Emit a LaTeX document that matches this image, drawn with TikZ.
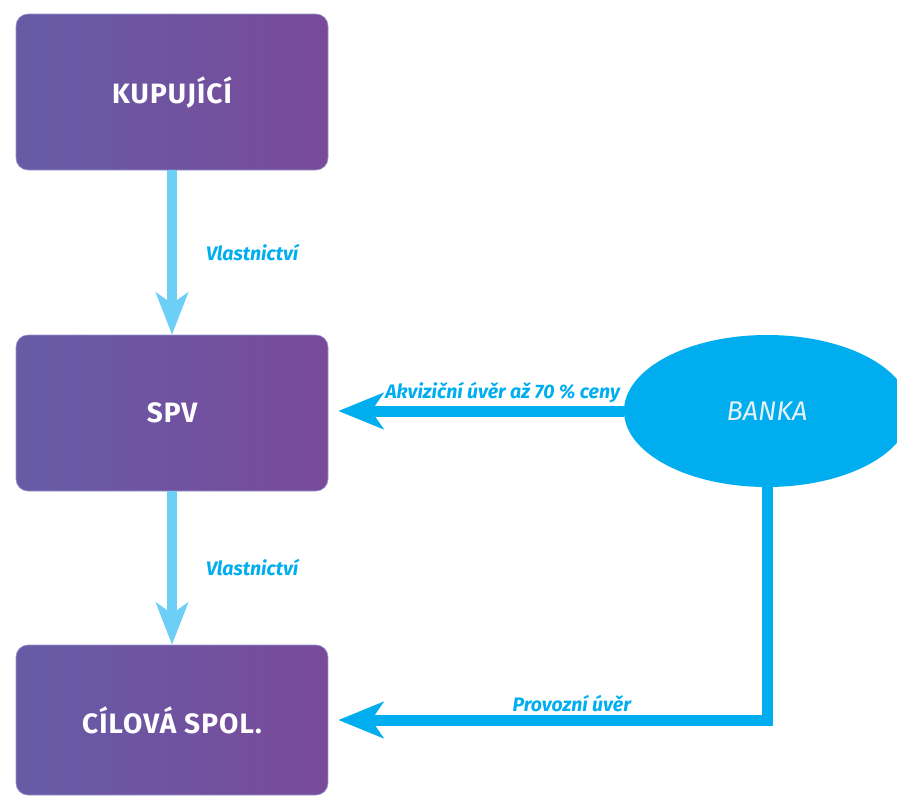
\documentclass[tikz,border=0pt]{standalone}
\usepackage{fontspec}
\setmainfont{Fira Sans}
\newfontfamily\titlefont[LetterSpace=4]{Fira Sans}
\usetikzlibrary{arrows.meta,shapes.geometric}
\definecolor{boxL}{RGB}{102,92,166}
\definecolor{boxR}{RGB}{121,74,154}
\definecolor{boxedge}{RGB}{150,150,205}
\definecolor{lightarr}{RGB}{109,207,246}
\definecolor{cyanarr}{RGB}{0,174,239}
\definecolor{bankatext}{RGB}{232,241,248}
\begin{document}
\begin{tikzpicture}[x=1pt,y=-1pt,
  entity/.style={rectangle, rounded corners=12pt, minimum width=312pt, inner sep=0pt,
    left color=boxL, right color=boxR, draw=boxedge, line width=0.6pt,
    text=white, font=\titlefont\fontsize{28}{32}\selectfont\bfseries},
  bank/.style={ellipse, minimum width=286pt, minimum height=152pt, inner sep=0pt,
    fill=cyanarr, text=bankatext, font=\fontsize{27}{30}\selectfont\itshape},
  ownarrow/.style={draw=lightarr, line width=10pt,
    -{Stealth[length=42pt, width=32pt, inset=11pt]}},
  loanarrow/.style={draw=cyanarr, line width=11pt,
    -{Stealth[length=45pt, width=36pt, inset=12pt]}},
  lbl/.style={text=cyanarr, font=\fontsize{19.5}{23}\selectfont\bfseries\itshape, inner sep=1pt}
]
\useasboundingbox (0,0) rectangle (897,796);
\node[entity, minimum height=156pt] (kup) at (172,92) {KUPUJÍCÍ};
\node[entity, minimum height=156pt] (spv) at (172,413) {SPV};
\node[entity, minimum height=150pt] (cil) at (172,720) {CÍLOVÁ SPOL.};
\node[bank] (banka) at (767,411) {BANKA};
\draw[ownarrow] (kup.south) -- (spv.north)
  node[lbl, midway, right=28pt] {Vlastnictví};
\draw[ownarrow] (spv.south) -- (cil.north)
  node[lbl, midway, right=28pt] {Vlastnictví};
\draw[loanarrow, shorten >=10pt] (banka.west) -- (spv.east |- banka.west)
  node[lbl, pos=0.41, above=2pt] {Akviziční úvěr až 70 \% ceny};
\draw[loanarrow, shorten >=10pt] (banka.south) -- (banka.south |- cil.east) -- (cil.east)
  node[lbl, pos=0.445, above=2pt] {Provozní úvěr};
\end{tikzpicture}
\end{document}
